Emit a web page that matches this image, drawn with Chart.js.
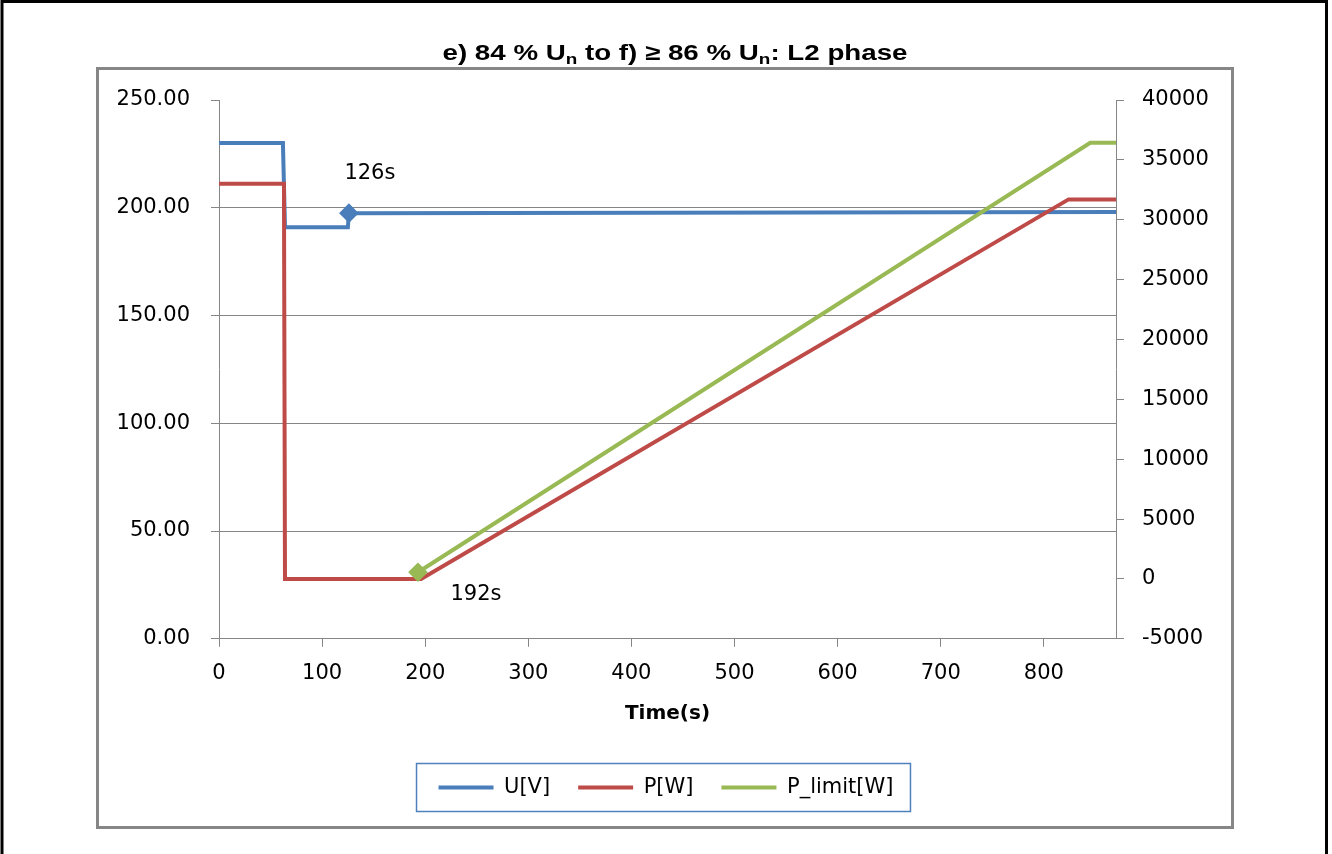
<!DOCTYPE html>
<html>
<head>
    <script src="https://cdn.jsdelivr.net/npm/chart.js"></script>
    <style>
        body { margin: 0; background: #ffffff; }
        canvas { display: block; }
    </style>
</head>
<body>
    <canvas id="stepChart" width="1332" height="854"></canvas>

    <script>
        // U[V] on the left axis
        const uTime = [0, 62, 64, 125, 126, 870];
        const uValues = [230, 230, 191, 191, 197.5, 198];
        // P[W] on the right axis
        const pTime = [0, 63, 64, 196, 824, 870];
        const pValues = [33000, 33000, 0, 0, 31700, 31700];
        // P_limit[W] on the right axis
        const limitTime = [193, 845, 870];
        const limitValues = [560, 36430, 36430];

        const seriesNames = ['U[V]', 'P[W]', 'P_limit[W]'];
        const markerTimes = [126, 193];
        const markerTexts = ['126s', '192s'];
        // title pieces, the "n" parts are subscripts
        const titleParts = [['e) 84 % U', false], ['n', true], [' to f) \u2265 86 % U', false], ['n', true], [': L2 phase', false]];

        const toPoints = (xs, ys) => xs.map((x, i) => ({ x: x, y: ys[i] }));
        const gridGray = '#868686';
        const tickFont = { family: 'DejaVu Sans', size: 21 };

        // frames, title, legend border and the two time notes
        const decorations = {
            id: 'decorations',
            beforeDraw(chart) {
                const c = chart.ctx;
                c.save();
                c.fillStyle = '#ffffff';
                c.fillRect(0, 0, chart.width, chart.height);
                c.strokeStyle = '#000000';
                c.lineWidth = 3;
                c.beginPath();
                c.moveTo(2, chart.height);
                c.lineTo(2, 1.5);
                c.lineTo(1326.5, 1.5);
                c.lineTo(1326.5, chart.height);
                c.stroke();
                c.strokeStyle = gridGray;
                c.strokeRect(97.5, 68.5, 1135, 759);

                // title, slightly stretched like the original export
                const big = 'bold 22px "Liberation Sans"';
                const small = 'bold 15px "Liberation Sans"';
                let w = 0;
                titleParts.forEach(p => { c.font = p[1] ? small : big; w += c.measureText(p[0]).width; });
                const stretch = 1.26;
                c.translate(675 - w * stretch / 2, 60);
                c.scale(stretch, 1);
                c.fillStyle = '#000000';
                c.textBaseline = 'alphabetic';
                let x = 0;
                titleParts.forEach(p => {
                    c.font = p[1] ? small : big;
                    c.fillText(p[0], x, p[1] ? 4 : 0);
                    x += c.measureText(p[0]).width;
                });
                c.restore();
            },
            afterDraw(chart) {
                const c = chart.ctx;
                const boxes = chart.legend.legendHitBoxes;
                if (boxes && boxes.length) {
                    const first = boxes[0];
                    const last = boxes[boxes.length - 1];
                    const mid = first.top + first.height / 2;
                    c.save();
                    c.strokeStyle = '#4f81bd';
                    c.lineWidth = 1.5;
                    c.strokeRect(first.left - 22, mid - 24, last.left + last.width - first.left + 39, 48);
                    c.restore();
                }
                const x = chart.scales.x;
                const y = chart.scales.y;
                const y2 = chart.scales.y2;
                c.save();
                c.font = '21px "DejaVu Sans"';
                c.fillStyle = '#000000';
                c.textAlign = 'center';
                c.textBaseline = 'middle';
                c.fillText(markerTexts[0], x.getPixelForValue(markerTimes[0]) + 21, y.getPixelForValue(uValues[4]) - 40);
                c.fillText(markerTexts[1], x.getPixelForValue(markerTimes[1]) + 58, y2.getPixelForValue(limitValues[0]) + 22);
                c.restore();
            }
        };

        new Chart(document.getElementById('stepChart'), {
            type: 'line',
            data: {
                datasets: [
                    {
                        label: seriesNames[0],
                        data: toPoints(uTime, uValues),
                        borderColor: '#4a7ebb',
                        backgroundColor: '#4a7ebb',
                        borderWidth: 4,
                        borderCapStyle: 'round',
                        pointStyle: 'rectRot',
                        pointRadius: uTime.map((t, i) => i === 4 ? 7 : 0),
                        yAxisID: 'y',
                        order: 3
                    },
                    {
                        label: seriesNames[1],
                        data: toPoints(pTime, pValues),
                        borderColor: '#be4b48',
                        backgroundColor: '#be4b48',
                        borderWidth: 4,
                        borderCapStyle: 'round',
                        pointRadius: 0,
                        yAxisID: 'y2',
                        order: 2
                    },
                    {
                        label: seriesNames[2],
                        data: toPoints(limitTime, limitValues),
                        borderColor: '#98b954',
                        backgroundColor: '#98b954',
                        borderWidth: 4,
                        borderCapStyle: 'round',
                        pointStyle: 'rectRot',
                        pointRadius: limitTime.map((t, i) => i === 0 ? 7 : 0),
                        yAxisID: 'y2',
                        order: 1
                    }
                ]
            },
            options: {
                responsive: false,
                animation: false,
                layout: { padding: { left: 0, right: 0, top: 100, bottom: 46 } },
                plugins: {
                    title: { display: false },
                    legend: {
                        position: 'bottom',
                        labels: {
                            font: tickFont,
                            color: '#000000',
                            padding: 28,
                            usePointStyle: true,
                            pointStyle: 'line',
                            pointStyleWidth: 55,
                            sort: (a, b) => a.datasetIndex - b.datasetIndex
                        }
                    },
                    tooltip: { enabled: false }
                },
                scales: {
                    x: {
                        type: 'linear',
                        min: 0,
                        max: 870,
                        ticks: { stepSize: 100, includeBounds: false, font: tickFont, color: '#000000', padding: 14 },
                        grid: { drawOnChartArea: false, tickLength: 8, color: gridGray },
                        border: { color: gridGray },
                        title: {
                            display: true,
                            text: 'Time(s)',
                            color: '#000000',
                            font: { family: 'DejaVu Sans', size: 20, weight: 'bold' },
                            padding: { top: 2, bottom: 23 }
                        }
                    },
                    y: {
                        position: 'left',
                        min: 0,
                        max: 250,
                        afterFit: s => { s.width = 219; },
                        ticks: { stepSize: 50, font: tickFont, color: '#000000', padding: 21, callback: v => v.toFixed(2) },
                        grid: {
                            tickLength: 8,
                            tickColor: gridGray,
                            color: ctx => (ctx.tick && ctx.tick.value > 0 && ctx.tick.value < 250) ? gridGray : 'rgba(0,0,0,0)'
                        },
                        border: { color: gridGray }
                    },
                    y2: {
                        position: 'right',
                        min: -5000,
                        max: 40000,
                        afterFit: s => { s.width = 216; },
                        ticks: { stepSize: 5000, font: tickFont, color: '#000000', padding: 18, callback: v => String(v) },
                        grid: { drawOnChartArea: false, tickLength: 8, color: gridGray },
                        border: { color: gridGray }
                    }
                }
            },
            plugins: [decorations]
        });
    </script>
</body>
</html>
